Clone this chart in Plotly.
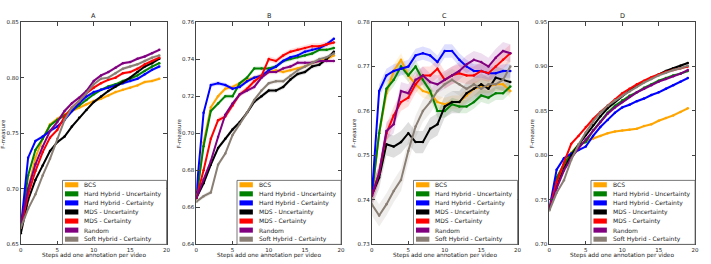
import plotly.graph_objects as go

steps = list(range(20))
series_names = ["BCS", "Hard Hybrid - Uncertainty", "Hard Hybrid - Certainty",
                "MDS - Uncertainty", "MDS - Certainty", "Random", "Soft Hybrid - Certainty"]
series_colors = ["#FFA500", "#008000", "#0000FF", "#000000", "#FF0000", "#800080", "#8A7F74"]
panel_titles = ["A", "B", "C", "D"]
x_ticks = [0, 5, 10, 15, 20]
y_ranges = [[0.65, 0.85], [0.64, 0.76], [0.73, 0.78], [0.70, 0.95]]
y_dticks = [0.05, 0.02, 0.01, 0.05]

# Panel A
A_BCS = [0.665, 0.700, 0.728, 0.745, 0.758, 0.763, 0.767, 0.770, 0.773, 0.776, 0.779, 0.781, 0.784, 0.787, 0.789, 0.791, 0.793, 0.796, 0.797, 0.799]
A_HHU = [0.665, 0.712, 0.735, 0.745, 0.757, 0.762, 0.766, 0.770, 0.775, 0.780, 0.785, 0.789, 0.792, 0.794, 0.797, 0.799, 0.802, 0.806, 0.810, 0.813]
A_HHC = [0.665, 0.728, 0.743, 0.747, 0.752, 0.756, 0.762, 0.770, 0.777, 0.783, 0.787, 0.789, 0.791, 0.793, 0.795, 0.797, 0.799, 0.803, 0.807, 0.810]
A_MDU = [0.660, 0.690, 0.708, 0.721, 0.734, 0.742, 0.747, 0.756, 0.764, 0.771, 0.778, 0.783, 0.788, 0.792, 0.796, 0.800, 0.805, 0.810, 0.813, 0.817]
A_MDC = [0.665, 0.695, 0.716, 0.733, 0.746, 0.753, 0.765, 0.773, 0.779, 0.786, 0.791, 0.795, 0.798, 0.800, 0.804, 0.805, 0.808, 0.812, 0.815, 0.818]
A_RND = [0.668, 0.700, 0.722, 0.738, 0.752, 0.760, 0.770, 0.777, 0.782, 0.788, 0.797, 0.802, 0.805, 0.809, 0.813, 0.814, 0.817, 0.819, 0.822, 0.825]
A_SHC = [0.665, 0.682, 0.695, 0.712, 0.727, 0.745, 0.762, 0.773, 0.779, 0.786, 0.794, 0.799, 0.800, 0.804, 0.808, 0.810, 0.812, 0.815, 0.818, 0.820]

# Panel B
B_BCS = [0.665, 0.695, 0.714, 0.720, 0.724, 0.725, 0.727, 0.729, 0.730, 0.731, 0.733, 0.734, 0.733, 0.734, 0.735, 0.736, 0.738, 0.739, 0.740, 0.742]
B_HHU = [0.665, 0.693, 0.712, 0.716, 0.720, 0.720, 0.727, 0.730, 0.735, 0.735, 0.735, 0.736, 0.739, 0.740, 0.741, 0.742, 0.743, 0.745, 0.745, 0.746]
B_HHC = [0.668, 0.711, 0.726, 0.727, 0.726, 0.724, 0.725, 0.728, 0.730, 0.731, 0.734, 0.736, 0.739, 0.741, 0.742, 0.744, 0.745, 0.746, 0.748, 0.751]
B_MDU = [0.665, 0.673, 0.683, 0.692, 0.697, 0.702, 0.706, 0.711, 0.717, 0.720, 0.723, 0.723, 0.725, 0.729, 0.732, 0.733, 0.736, 0.737, 0.740, 0.744]
B_MDC = [0.665, 0.680, 0.697, 0.707, 0.709, 0.715, 0.721, 0.724, 0.728, 0.731, 0.740, 0.739, 0.742, 0.744, 0.745, 0.746, 0.747, 0.747, 0.748, 0.749]
B_RND = [0.665, 0.675, 0.685, 0.698, 0.710, 0.716, 0.721, 0.723, 0.725, 0.730, 0.733, 0.733, 0.735, 0.736, 0.738, 0.738, 0.738, 0.739, 0.739, 0.739]
B_SHC = [0.663, 0.666, 0.668, 0.683, 0.689, 0.699, 0.705, 0.711, 0.718, 0.723, 0.727, 0.728, 0.728, 0.731, 0.734, 0.736, 0.738, 0.740, 0.741, 0.743]

# Panel C
C_BCS = [0.741, 0.755, 0.764, 0.769, 0.7715, 0.768, 0.766, 0.7645, 0.764, 0.762, 0.7615, 0.762, 0.762, 0.7635, 0.765, 0.7655, 0.7655, 0.766, 0.766, 0.7645]
C_HHU = [0.741, 0.755, 0.765, 0.767, 0.770, 0.768, 0.770, 0.767, 0.7645, 0.760, 0.760, 0.7615, 0.761, 0.761, 0.762, 0.7635, 0.763, 0.764, 0.764, 0.7655]
C_HHC = [0.741, 0.7645, 0.768, 0.769, 0.7695, 0.770, 0.7725, 0.773, 0.7725, 0.771, 0.7735, 0.7735, 0.7715, 0.770, 0.769, 0.769, 0.7685, 0.7685, 0.769, 0.769]
C_MDU = [0.741, 0.745, 0.7525, 0.752, 0.753, 0.755, 0.753, 0.753, 0.756, 0.757, 0.761, 0.762, 0.762, 0.764, 0.765, 0.766, 0.765, 0.7675, 0.767, 0.7665]
C_MDC = [0.741, 0.746, 0.755, 0.759, 0.762, 0.763, 0.766, 0.768, 0.768, 0.7695, 0.767, 0.768, 0.7685, 0.768, 0.768, 0.769, 0.7685, 0.770, 0.7715, 0.773]
C_RND = [0.741, 0.746, 0.7555, 0.757, 0.7645, 0.764, 0.767, 0.768, 0.7665, 0.766, 0.767, 0.768, 0.769, 0.7705, 0.7715, 0.771, 0.770, 0.772, 0.7735, 0.773]
C_SHC = [0.739, 0.7365, 0.739, 0.742, 0.7445, 0.751, 0.7565, 0.760, 0.762, 0.7645, 0.766, 0.767, 0.766, 0.765, 0.766, 0.765, 0.766, 0.766, 0.767, 0.770]

# Panel D
D_BCS = [0.740, 0.770, 0.790, 0.803, 0.812, 0.816, 0.819, 0.822, 0.825, 0.827, 0.828, 0.829, 0.830, 0.833, 0.835, 0.839, 0.842, 0.845, 0.849, 0.853]
D_HHU = [0.740, 0.775, 0.790, 0.802, 0.812, 0.815, 0.828, 0.838, 0.848, 0.856, 0.862, 0.867, 0.871, 0.876, 0.880, 0.884, 0.887, 0.890, 0.892, 0.895]
D_HHC = [0.740, 0.784, 0.797, 0.802, 0.806, 0.810, 0.822, 0.832, 0.840, 0.848, 0.854, 0.857, 0.861, 0.864, 0.868, 0.871, 0.875, 0.879, 0.883, 0.887]
D_MDU = [0.740, 0.765, 0.785, 0.800, 0.812, 0.823, 0.834, 0.844, 0.853, 0.860, 0.867, 0.873, 0.878, 0.883, 0.887, 0.891, 0.895, 0.898, 0.901, 0.904]
D_MDC = [0.740, 0.770, 0.792, 0.813, 0.822, 0.832, 0.841, 0.849, 0.856, 0.863, 0.870, 0.875, 0.880, 0.884, 0.888, 0.891, 0.894, 0.896, 0.898, 0.900]
D_RND = [0.740, 0.763, 0.783, 0.797, 0.808, 0.818, 0.828, 0.838, 0.847, 0.854, 0.860, 0.866, 0.871, 0.875, 0.879, 0.883, 0.886, 0.889, 0.892, 0.896]
D_SHC = [0.738, 0.758, 0.772, 0.795, 0.812, 0.826, 0.838, 0.848, 0.856, 0.862, 0.867, 0.872, 0.877, 0.882, 0.886, 0.890, 0.893, 0.896, 0.898, 0.901]

# approximate half-width of the shaded confidence band per series
A_BAND = [0.0015, 0.0015, 0.0015, 0.0015, 0.0015, 0.0015, 0.0015]
B_BAND = [0.0012, 0.0012, 0.0012, 0.0012, 0.0015, 0.0012, 0.0012]
C_BAND = [0.0015, 0.0015, 0.0015, 0.0025, 0.0020, 0.0020, 0.0025]
D_BAND = [0.0015, 0.0015, 0.0015, 0.0015, 0.0015, 0.0015, 0.0015]

panels = [
    [A_BCS, A_HHU, A_HHC, A_MDU, A_MDC, A_RND, A_SHC],
    [B_BCS, B_HHU, B_HHC, B_MDU, B_MDC, B_RND, B_SHC],
    [C_BCS, C_HHU, C_HHC, C_MDU, C_MDC, C_RND, C_SHC],
    [D_BCS, D_HHU, D_HHC, D_MDU, D_MDC, D_RND, D_SHC],
]
bands = [A_BAND, B_BAND, C_BAND, D_BAND]

W, H = 711, 264
# plot areas in pixels (left, right), shared top/bottom
px_x = [(19, 166), (196, 342), (373, 520), (552, 699)]
px_top, px_bot = 19.5, 247
FONT = "DejaVu Sans"
TXT = "#222222"


def hex_rgba(h, a):
    h = h.lstrip("#")
    return "rgba(%d,%d,%d,%.3f)" % (int(h[0:2], 16), int(h[2:4], 16), int(h[4:6], 16), a)


fig = go.Figure()
annotations = []
shapes = []

for p in range(4):
    ax = "" if p == 0 else str(p + 1)
    xref, yref = "x" + ax, "y" + ax
    for s, (name, col) in enumerate(zip(series_names, series_colors)):
        vals = panels[p][s]
        e = bands[p][s]
        upper = [v + e for v in vals]
        lower = [v - e for v in vals]
        fig.add_trace(go.Scatter(
            x=steps + steps[::-1], y=upper + lower[::-1], fill="toself",
            fillcolor=hex_rgba(col, 0.13), line=dict(width=0), mode="lines",
            hoverinfo="skip", showlegend=False, xaxis=xref, yaxis=yref))
    for s, (name, col) in enumerate(zip(series_names, series_colors)):
        fig.add_trace(go.Scatter(
            x=steps, y=panels[p][s], mode="lines+markers", name=name,
            line=dict(color=col, width=2), marker=dict(color=col, size=2.5),
            showlegend=False, xaxis=xref, yaxis=yref))

    l, r = px_x[p]
    pw = r - l
    ph = px_bot - px_top
    axis_common = dict(showgrid=False, zeroline=False, showline=True, linecolor="#444444",
                       linewidth=1, mirror="allticks", ticks="inside", ticklen=3.5,
                       tickcolor="#444444", tickwidth=0.8,
                       tickfont=dict(family=FONT, size=5.5, color=TXT))
    fig.layout["xaxis" + ax] = dict(domain=[l / W, r / W], range=[0, 20], tickvals=x_ticks,
                                    anchor=yref, **axis_common)
    fig.layout["yaxis" + ax] = dict(domain=[(H - px_bot) / H, (H - px_top) / H],
                                    range=y_ranges[p], dtick=y_dticks[p], tick0=y_ranges[p][0],
                                    tickformat=".2f", anchor=xref, **axis_common)

    dx = xref + " domain"
    dy = yref + " domain"
    # panel title
    annotations.append(dict(text=panel_titles[p], xref=dx, yref=dy, x=0.5, y=1, yanchor="bottom",
                            yshift=0, showarrow=False, font=dict(family=FONT, size=6.5, color=TXT)))
    # axis titles
    annotations.append(dict(text="Steps add one annotation per video", xref=dx, yref=dy,
                            x=0.5, y=0, yanchor="middle", yshift=-11.5, showarrow=False,
                            font=dict(family=FONT, size=5.8, color=TXT)))
    annotations.append(dict(text="F-measure", xref=dx, yref=dy, x=-17.5 / pw, y=0.5,
                            xanchor="center", yanchor="middle", textangle=-90, showarrow=False,
                            font=dict(family=FONT, size=5.5, color=TXT)))

    # legend box (lower right inside the plot)
    lw, lh = 105, 65.5
    bx0 = 1 - lw / pw
    shapes.append(dict(type="rect", xref=dx, yref=dy, x0=bx0, x1=1, y0=0, y1=lh / ph,
                       fillcolor="white", line=dict(color="#555555", width=0.8), layer="above"))
    row0, gap = 61.0, 9.28
    for s, (name, col) in enumerate(zip(series_names, series_colors)):
        yc = (row0 - s * gap) / ph
        shapes.append(dict(type="rect", xref=dx, yref=dy,
                           x0=bx0 + 2.5 / pw, x1=bx0 + 16 / pw,
                           y0=yc - 2.6 / ph, y1=yc + 2.6 / ph,
                           fillcolor=col, line=dict(width=0), layer="above"))
        annotations.append(dict(text=name, xref=dx, yref=dy, x=bx0 + 20 / pw, y=yc,
                                xanchor="left", yanchor="middle", showarrow=False,
                                font=dict(family=FONT, size=6, color=TXT)))

fig.update_layout(width=W, height=H, margin=dict(l=0, r=0, t=0, b=0),
                  paper_bgcolor="white", plot_bgcolor="white", showlegend=False,
                  annotations=annotations, shapes=shapes)

fig.write_html("out.html")
